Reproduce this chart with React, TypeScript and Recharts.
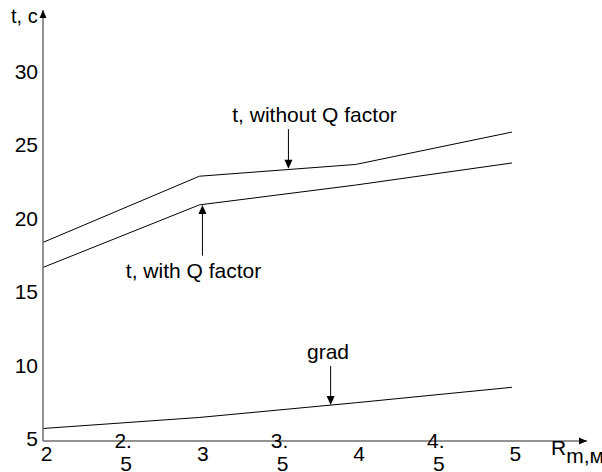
import * as React from 'react';
import {
  Line,
  LineChart,
  ReferenceDot,
  ReferenceLine,
  XAxis,
  YAxis,
} from 'recharts';

// values
const R_VALUES = [2, 3, 4, 5];
const T_WITHOUT_Q = [18.5, 23.0, 23.8, 26.0];
const T_WITH_Q = [16.8, 21.05, 22.4, 23.9];
const GRAD = [5.85, 6.6, 7.6, 8.65];

const X_TICKS = [2, 2.5, 3, 3.5, 4, 4.5, 5];
const Y_TICKS = [5, 10, 15, 20, 25, 30];

// annotations: arrow from (x, yFrom) to (x, yTo), text at (tx, ty)
const NOTES = [
  { text: 't, without Q factor', x: 3.57, yFrom: 26.2, yTo: 23.5, tx: 3.737, ty: 27.2 },
  { text: 't, with Q factor', x: 3.02, yFrom: 17.6, yTo: 21.05, tx: 2.963, ty: 16.6 },
  { text: 'grad', x: 3.84, yFrom: 10.1, yTo: 7.45, tx: 3.823, ty: 11.1 },
];

const data = R_VALUES.map((r, i) => ({
  r,
  withoutQ: T_WITHOUT_Q[i],
  withQ: T_WITH_Q[i],
  grad: GRAD[i],
}));

const AXIS_COLOR = '#6e6e6e';
const FONT = '"Liberation Sans", Arial, sans-serif';
const FONT_SIZE = 21;

const ArrowShape = (props: any) => {
  const { x1, y1, x2, y2 } = props;
  const dir = y2 > y1 ? 1 : -1;
  return (
    <g>
      <line x1={x1} y1={y1} x2={x2} y2={y2 - dir * 6} stroke="#000" strokeWidth={1} />
      <polygon
        points={`${x2},${y2} ${x2 - 4},${y2 - dir * 9} ${x2 + 4},${y2 - dir * 9}`}
        fill="#000"
      />
    </g>
  );
};

const XTick = (props: any) => {
  const { x, y, payload } = props;
  const v = String(payload.value);
  if (!v.includes('.')) {
    return (
      <text x={x + 3.5} y={y + 20} textAnchor="middle" fontSize={FONT_SIZE} fill="#000" fontFamily={FONT}>
        {v}
      </text>
    );
  }
  const [a, b] = v.split('.');
  return (
    <g>
      <text x={x + 2} y={y + 7} textAnchor="middle" fontSize={FONT_SIZE} fill="#000" fontFamily={FONT}>
        {a + '.'}
      </text>
      <text x={x + 5} y={y + 30} textAnchor="middle" fontSize={FONT_SIZE} fill="#000" fontFamily={FONT}>
        {b}
      </text>
    </g>
  );
};

export default function App() {
  return (
    <div style={{ position: 'absolute', left: 0, top: 0 }}>
      <LineChart
        width={602}
        height={472}
        data={data}
        margin={{ top: 10, right: 15, left: 0, bottom: 0 }}
        style={{ fontFamily: FONT }}
      >
        <XAxis
          type="number"
          dataKey="r"
          domain={[2, 5.48]}
          ticks={X_TICKS}
          interval={0}
          height={31}
          tickSize={0}
          tickMargin={0}
          tick={<XTick />}
          axisLine={{ stroke: AXIS_COLOR, strokeWidth: 1.5 }}
          label={(p: any) => {
            const { x, y, width } = p.viewBox;
            const ex = x + width;
            return (
              <g>
                <polygon points={`${ex},${y} ${ex - 8},${y - 3.5} ${ex - 8},${y + 3.5}`} fill="#000" />
                <text x={551} y={455} fontSize={FONT_SIZE} fill="#000" fontFamily={FONT}>
                  R
                  <tspan dy={8}>m,м</tspan>
                </text>
              </g>
            );
          }}
        />
        <YAxis
          type="number"
          domain={[5, 34.3]}
          ticks={Y_TICKS}
          interval={0}
          width={43}
          tickSize={0}
          tickMargin={5}
          tick={{ fill: '#000', fontSize: FONT_SIZE, fontFamily: FONT, dy: -2 }}
          axisLine={{ stroke: AXIS_COLOR, strokeWidth: 1.5 }}
          label={(p: any) => {
            const { x, y, width } = p.viewBox;
            const ax = x + width;
            return (
              <g>
                <polygon points={`${ax},${y} ${ax - 3.5},${y + 8} ${ax + 3.5},${y + 8}`} fill="#000" />
                <text x={11} y={23} fontSize={20} fill="#000" fontFamily={FONT}>
                  t, c
                </text>
              </g>
            );
          }}
        />
        <Line dataKey="withoutQ" type="linear" stroke="#000" strokeWidth={1} dot={false} isAnimationActive={false} />
        <Line dataKey="withQ" type="linear" stroke="#000" strokeWidth={1} dot={false} isAnimationActive={false} />
        <Line dataKey="grad" type="linear" stroke="#000" strokeWidth={1} dot={false} isAnimationActive={false} />
        {NOTES.map(n => (
          <ReferenceLine
            key={n.text + '-arrow'}
            segment={[
              { x: n.x, y: n.yFrom },
              { x: n.x, y: n.yTo },
            ]}
            shape={ArrowShape}
          />
        ))}
        {NOTES.map(n => (
          <ReferenceDot
            key={n.text}
            x={n.tx}
            y={n.ty}
            r={0}
            fill="none"
            stroke="none"
            label={{ value: n.text, position: 'center', fill: '#000', fontSize: FONT_SIZE, fontFamily: FONT }}
          />
        ))}
      </LineChart>
    </div>
  );
}
